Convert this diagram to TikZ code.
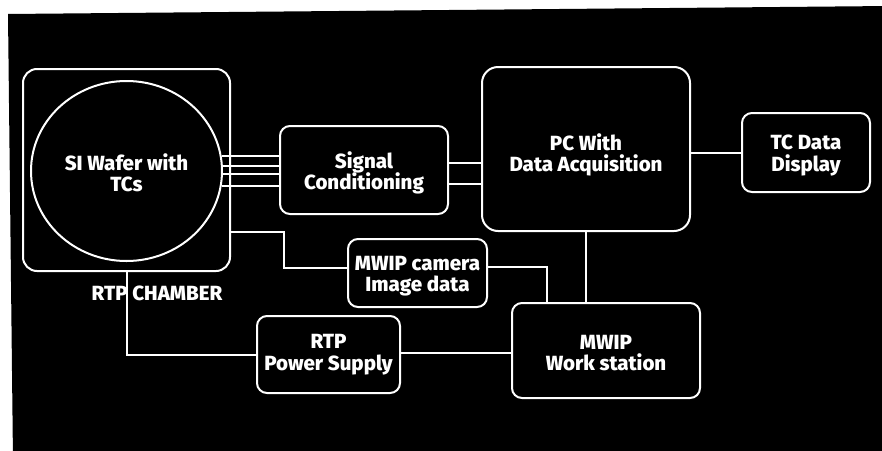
\documentclass[tikz,border=0pt]{standalone}
\usepackage{fontspec}
\setmainfont{Fira Sans}[BoldFont={Fira Sans ExtraBold}]
\usetikzlibrary{shapes.geometric}
\begin{document}
\begin{tikzpicture}[x=1pt,y=-1pt,
  wire/.style={draw=white,line width=2pt},
  blk/.style={draw=white,line width=2pt,rounded corners=10pt,inner sep=0pt},
  lbl/.style={text=white,inner sep=0pt,align=center,font=\fontsize{20.5}{21.5}\selectfont\bfseries}]
\useasboundingbox (0,0) rectangle (882,450);
\fill[white] (-5,-5) rectangle (890,460);
\fill[black] (8,14) -- (890,6) -- (890,460) -- (13,460) -- cycle;

\node[blk,rounded corners=14pt,minimum width=207pt,minimum height=202pt] (chamber) at (126.5,170) {};
\node[blk,ellipse,minimum width=191pt,minimum height=180pt] (wafer) at (126.5,171) {};
\node[lbl] (waflbl) at (126.5,173) {SI Wafer with\\TCs};
\node[lbl] (chlabel) at (157,293) {RTP CHAMBER};
\node[blk,minimum width=168pt,minimum height=88pt] (sig) at (364,170) {};
\node[lbl] (siglbl) at (364,173) {Signal\\Conditioning};
\node[blk,rounded corners=16pt,minimum width=208pt,minimum height=164pt] (pc) at (586,149) {};
\node[lbl] (pclbl) at (586,155) {PC With\\Data Acquisition};
\node[blk,minimum width=128pt,minimum height=79pt] (tc) at (806,152.5) {};
\node[lbl] (tclbl) at (806,155.5) {TC Data\\Display};
\node[blk,minimum width=139pt,minimum height=68pt] (cam) at (417.5,273) {};
\node[lbl] (camlbl) at (417.5,276) {MWIP camera\\Image data};
\node[blk,minimum width=143pt,minimum height=77pt] (power) at (328.5,354.5) {};
\node[lbl] (powlbl) at (328.5,354.5) {RTP\\Power Supply};
\node[blk,minimum width=188pt,minimum height=95pt] (ws) at (606,350.5) {};
\node[lbl] (wslbl) at (606,353) {MWIP\\Work station};

% wafer thermocouple wires
\foreach \a in {9.2,3.2,-2.9,-9.0}
  \draw[wire] (wafer.\a) -- (wafer.\a -| sig.west);
% signal conditioning to PC
\draw[wire] ([yshift=7pt]sig.east) -- ([yshift=7pt]sig.east -| pc.west);
\draw[wire] ([yshift=-14pt]sig.east) -- ([yshift=-14pt]sig.east -| pc.west);
% PC to display
\draw[wire] (tc.west) -- (tc.west -| pc.east);
% PC to workstation
\draw[wire] (pc.south) -- (pc.south |- ws.north);
% chamber to camera
\draw[wire] ([yshift=-62pt]chamber.east) -- ++(53,0) |- ([yshift=5pt]cam.west);
% camera to workstation
\draw[wire] ([yshift=6pt]cam.east) -| ([xshift=-59pt]ws.north);
% chamber to power supply
\draw[wire] (chamber.south) |- (power.west);
% power supply to workstation
\draw[wire] ([yshift=1.5pt]power.east) -- ([yshift=1.5pt]power.east -| ws.west);
\end{tikzpicture}
\end{document}
